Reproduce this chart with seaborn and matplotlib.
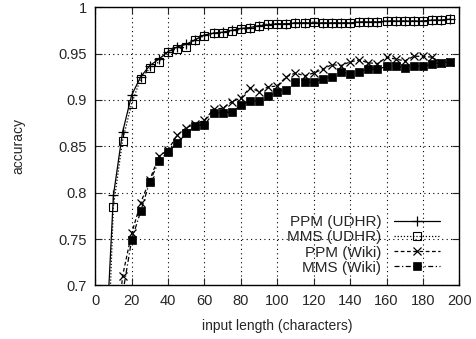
import numpy as np
import matplotlib
matplotlib.use('Agg')
import matplotlib.pyplot as plt
import pandas as pd
import seaborn as sns

# datos
x_udhr = list(range(5, 200, 5))
ppm_udhr = [0.60, 0.797, 0.865, 0.905, 0.925, 0.937, 0.944, 0.952, 0.957, 0.960, 0.965,
            0.970, 0.972, 0.973, 0.975, 0.977, 0.978, 0.980, 0.981, 0.982, 0.982, 0.983,
            0.983, 0.983, 0.983, 0.983, 0.983, 0.983, 0.984, 0.984, 0.984, 0.985, 0.985,
            0.985, 0.985, 0.985, 0.986, 0.986, 0.987]
mms_udhr = [0.52, 0.785, 0.856, 0.896, 0.923, 0.934, 0.941, 0.952, 0.955, 0.957, 0.965,
            0.969, 0.972, 0.972, 0.974, 0.976, 0.977, 0.980, 0.982, 0.982, 0.982, 0.983,
            0.983, 0.984, 0.983, 0.983, 0.983, 0.983, 0.984, 0.984, 0.984, 0.985, 0.985,
            0.985, 0.985, 0.985, 0.986, 0.986, 0.987]

x_wiki = list(range(10, 200, 5))
ppm_wiki = [0.60, 0.710, 0.756, 0.789, 0.814, 0.839, 0.846, 0.862, 0.870, 0.874, 0.878,
            0.890, 0.891, 0.898, 0.902, 0.913, 0.909, 0.914, 0.915, 0.925, 0.929, 0.926,
            0.929, 0.933, 0.938, 0.937, 0.941, 0.943, 0.940, 0.939, 0.946, 0.944, 0.942,
            0.947, 0.947, 0.946, 0.940, 0.941]
mms_wiki = [0.58, 0.690, 0.749, 0.780, 0.812, 0.834, 0.844, 0.853, 0.864, 0.872, 0.873,
            0.886, 0.886, 0.887, 0.894, 0.899, 0.899, 0.904, 0.908, 0.911, 0.919, 0.919,
            0.919, 0.923, 0.925, 0.930, 0.928, 0.9305, 0.933, 0.933, 0.936, 0.937, 0.934,
            0.937, 0.936, 0.9385, 0.940, 0.941]

sns.set_style('ticks')
plt.rcParams['font.family'] = ['Liberation Sans', 'DejaVu Sans']

fig, ax = plt.subplots(figsize=(4.76, 3.39), dpi=100)
fig.subplots_adjust(left=0.2, right=0.965, top=0.979, bottom=0.158)

sns.lineplot(x=x_udhr, y=ppm_udhr, ax=ax, color='k', lw=0.9, linestyle='-',
             marker='+', markersize=7, mec='k', mew=0.9, label='PPM (UDHR)')
sns.lineplot(x=x_udhr, y=mms_udhr, ax=ax, color='k', lw=0.9, linestyle=(0, (1, 1.5)),
             marker='s', markersize=5.5, mfc='none', mec='k', mew=0.8, label='MMS (UDHR)')
sns.lineplot(x=x_wiki, y=ppm_wiki, ax=ax, color='k', lw=0.9, linestyle=(0, (3, 2)),
             marker='x', markersize=6, mec='k', mew=0.9, label='PPM (Wiki)')
sns.lineplot(x=x_wiki, y=mms_wiki, ax=ax, color='k', lw=0.9, linestyle=(0, (4, 2, 1, 2)),
             marker='s', markersize=6, mfc='k', mec='k', mew=0.5, label='MMS (Wiki)')

ax.set_xlim(0, 200)
ax.set_ylim(0.7, 1.0)
ax.set_xticks(range(0, 201, 20))
ax.set_yticks([0.7, 0.75, 0.8, 0.85, 0.9, 0.95, 1.0])
ax.set_yticklabels(['0.7', '0.75', '0.8', '0.85', '0.9', '0.95', '1'])
ax.grid(True, color='k', linestyle=(0, (1, 3)), lw=0.8)
ax.tick_params(direction='in', top=True, right=True, length=5, labelsize=10.5, pad=6)
for s in ax.spines.values():
    s.set_color('k')
    s.set_linewidth(1)
ax.set_xlabel('input length (characters)', fontsize=10, labelpad=8)
ax.set_ylabel('accuracy', fontsize=10, labelpad=24)

leg = ax.legend(loc='lower right', bbox_to_anchor=(0.975, 0.0), frameon=False,
                markerfirst=False, fontsize=11, handlelength=3.0, labelspacing=0.08,
                borderaxespad=0.3, handletextpad=0.8)
for t in leg.get_texts():
    t.set_ha('right')

fig.savefig('out.png', dpi=100)
